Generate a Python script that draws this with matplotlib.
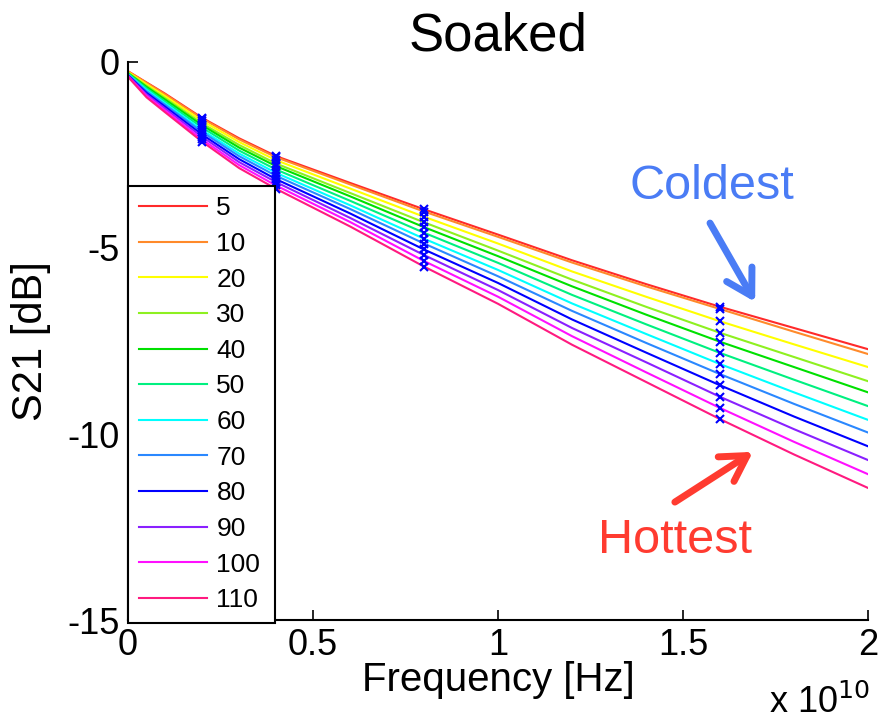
import numpy as np
import matplotlib
matplotlib.use("Agg")
import matplotlib.pyplot as plt
from matplotlib.ticker import FuncFormatter

plt.rcParams['font.family'] = ['Liberation Sans', 'DejaVu Sans']
plt.rcParams['axes.unicode_minus'] = False

# frequency points (Hz)
freq = np.array([0.0, 0.05, 0.1, 0.2, 0.3, 0.4, 0.6, 0.8, 1.0, 1.2, 1.4, 1.6, 1.8, 2.0]) * 1e10

temps = ['5', '10', '20', '30', '40', '50', '60', '70', '80', '90', '100', '110']
colors = ['#ff2a2a', '#ff8a2a', '#ffff00', '#8ef020', '#00e000', '#00f080',
          '#00ffff', '#2a88ff', '#0000ff', '#8a20ff', '#ff10ff', '#ff1a80']

s21_5 = [-0.25, -0.55, -0.85, -1.50, -2.05, -2.53, -3.25, -3.96, -4.64, -5.33, -5.97, -6.58, -7.15, -7.72]
s21_10 = [-0.25, -0.56, -0.87, -1.52, -2.08, -2.56, -3.29, -4.02, -4.70, -5.39, -6.03, -6.64, -7.25, -7.85]
s21_20 = [-0.27, -0.60, -0.92, -1.58, -2.15, -2.64, -3.40, -4.16, -4.88, -5.63, -6.31, -6.97, -7.59, -8.20]
s21_30 = [-0.29, -0.64, -0.97, -1.65, -2.23, -2.73, -3.52, -4.31, -5.07, -5.85, -6.58, -7.28, -7.93, -8.58]
s21_40 = [-0.30, -0.67, -1.01, -1.70, -2.30, -2.80, -3.61, -4.44, -5.22, -6.03, -6.79, -7.52, -8.20, -8.88]
s21_50 = [-0.31, -0.71, -1.06, -1.76, -2.38, -2.89, -3.73, -4.59, -5.40, -6.26, -7.05, -7.82, -8.54, -9.25]
s21_60 = [-0.33, -0.75, -1.11, -1.83, -2.46, -2.98, -3.85, -4.75, -5.59, -6.49, -7.31, -8.12, -8.88, -9.62]
s21_70 = [-0.34, -0.79, -1.15, -1.88, -2.53, -3.06, -3.95, -4.88, -5.76, -6.69, -7.55, -8.39, -9.19, -9.96]
s21_80 = [-0.36, -0.83, -1.20, -1.95, -2.61, -3.15, -4.07, -5.04, -5.94, -6.92, -7.81, -8.69, -9.53, -10.33]
s21_90 = [-0.37, -0.87, -1.25, -2.01, -2.69, -3.23, -4.19, -5.19, -6.13, -7.15, -8.07, -9.00, -9.87, -10.70]
s21_100 = [-0.39, -0.91, -1.30, -2.08, -2.77, -3.32, -4.30, -5.35, -6.31, -7.37, -8.34, -9.30, -10.21, -11.08]
s21_110 = [-0.40, -0.95, -1.35, -2.14, -2.85, -3.41, -4.42, -5.50, -6.50, -7.60, -8.60, -9.60, -10.55, -11.45]

curves = [s21_5, s21_10, s21_20, s21_30, s21_40, s21_50,
          s21_60, s21_70, s21_80, s21_90, s21_100, s21_110]

# frequencies where the blue crosses sit
mark_freq = [0.2e10, 0.4e10, 0.8e10, 1.6e10]

fig = plt.figure(figsize=(8.83, 7.25), dpi=100)
ax = fig.add_axes([0.145, 0.1448, 0.838, 0.7697])

for vals, col, lab in zip(curves, colors, temps):
    ax.plot(freq, vals, color=col, lw=1.5, label=lab)

mark_idx = [list(freq).index(m) for m in mark_freq]
for vals in curves:
    v = np.array(vals)
    ax.plot(freq[mark_idx], v[mark_idx], 'x', color='#0000ff', ms=6, mew=1.5, zorder=5)

ax.set_xlim(0, 2e10)
ax.set_ylim(-15, 0)
ax.set_xticks([0, 0.5e10, 1e10, 1.5e10, 2e10])
ax.set_yticks([0, -5, -10, -15])
ax.xaxis.set_major_formatter(FuncFormatter(lambda x, p: '%g' % (x / 1e10)))
ax.tick_params(direction='in', length=7, width=1.2, labelsize=26, pad=6)
for s in ['top', 'right']:
    ax.spines[s].set_visible(False)
for s in ['left', 'bottom']:
    ax.spines[s].set_linewidth(1.5)

ax.set_xlabel('Frequency [Hz]', fontsize=29, labelpad=-2)
ax.set_ylabel('S21 [dB]', fontsize=30, labelpad=12)
ax.set_title('Soaked', fontsize=38, pad=8)
fig.text(0.985, 0.005, r'x 10$^{10}$', ha='right', va='bottom', fontsize=26)

leg = ax.legend(loc='upper left', bbox_to_anchor=(0, 0, 0.199, 0.778), mode='expand',
                borderaxespad=0, fontsize=19, labelspacing=0.44, handlelength=2.6,
                handletextpad=0.35, borderpad=0.4, fancybox=False, framealpha=1)
leg.get_frame().set_edgecolor('black')
leg.get_frame().set_linewidth(1.5)
leg.set_zorder(10)

blue_c = '#4a7cf5'
red_c = '#ff3b30'
ax.text(1.578e10, -3.36, 'Coldest', color=blue_c, fontsize=35, ha='center', va='center')
ax.annotate('', xy=(1.695e10, -6.45), xytext=(1.573e10, -4.33),
            arrowprops=dict(arrowstyle='->,head_length=0.6,head_width=0.35', lw=5,
                            color=blue_c, mutation_scale=30, shrinkA=0, shrinkB=0))
ax.text(1.478e10, -12.85, 'Hottest', color=red_c, fontsize=35, ha='center', va='center')
ax.annotate('', xy=(1.689e10, -10.48), xytext=(1.478e10, -11.83),
            arrowprops=dict(arrowstyle='->,head_length=0.6,head_width=0.35', lw=5,
                            color=red_c, mutation_scale=30, shrinkA=0, shrinkB=0))

fig.savefig('out.png', dpi=100)
